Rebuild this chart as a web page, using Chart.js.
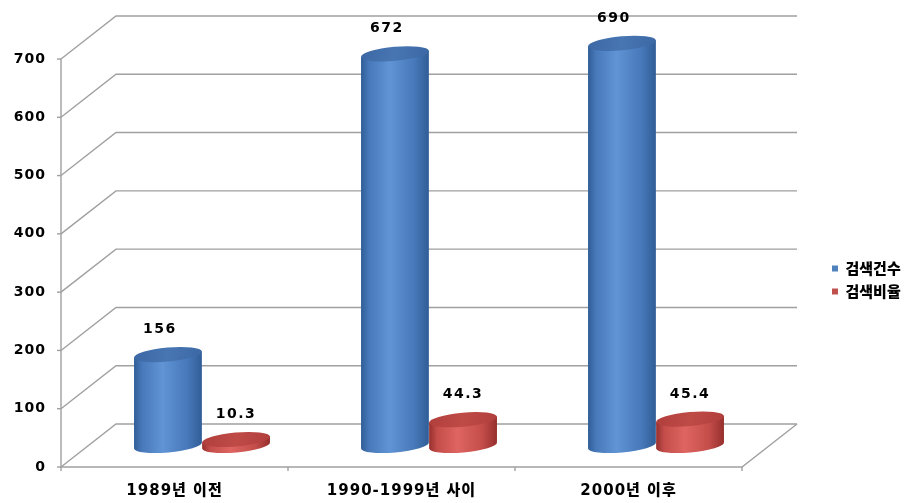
<!DOCTYPE html>
<html><head><meta charset="utf-8">
<script src="https://cdn.jsdelivr.net/npm/chart.js@4"></script>
<style>html,body{margin:0;padding:0;background:#fff;overflow:hidden}canvas{display:block}</style>
</head><body>
<canvas id="c" width="917" height="503"></canvas>
<script>
// ---- data ----
const categories = ['1989년 이전', '1990-1999년 사이', '2000년 이후'];
const searchCounts = [156, 672, 690];
const searchRatios = [10.3, 44.3, 45.4];
const seriesNames = ['검색건수', '검색비율'];
const yMin = 0, yMax = 700, yStep = 100;

// ---- style ----
const DEPTH_X = 55, DEPTH_Y = -43;
const GRID = '#a0a0a0';
const FAMILY = '"DejaVu Sans", "Noto Sans CJK KR", sans-serif';
const palettes = [
  {edge:'#305d96', mid:'#4879ba', light:'#6094d4', top:'#3b68a4', topLight:'#4876b2'},
  {edge:'#952f2d', mid:'#c44d4a', light:'#de6561', top:'#b03e3b', topLight:'#bf4b47'}
];
const labelShift = [-8, 0];

function cylinder(ctx, cx, yBase, yTop, rx, ry, rot, pal) {
  const ex = rx * Math.cos(rot), ey = rx * Math.sin(rot);
  const g = ctx.createLinearGradient(cx - rx, 0, cx + rx, 0);
  g.addColorStop(0, pal.edge); g.addColorStop(0.12, pal.mid);
  g.addColorStop(0.42, pal.light); g.addColorStop(0.78, pal.mid);
  g.addColorStop(1, pal.edge);
  ctx.beginPath();
  ctx.moveTo(cx - ex, yTop - ey);
  ctx.lineTo(cx - ex, yBase - ey);
  ctx.ellipse(cx, yBase, rx, ry, rot, Math.PI, 0, true);
  ctx.lineTo(cx + ex, yTop + ey);
  ctx.closePath();
  ctx.fillStyle = g; ctx.fill();
  const tg = ctx.createLinearGradient(cx - rx, yTop - ry, cx + rx, yTop + ry);
  tg.addColorStop(0, pal.top); tg.addColorStop(0.5, pal.topLight); tg.addColorStop(1, pal.top);
  ctx.beginPath();
  ctx.ellipse(cx, yTop, rx, ry, rot, 0, Math.PI * 2);
  ctx.fillStyle = tg; ctx.fill();
}

const threeD = {
  id: 'threeD',
  beforeLayout(chart) {
    const lg = chart.legend;
    if (lg && !lg.__p) {
      lg.__p = true;
      const fit = lg.fit.bind(lg);
      lg.fit = function () { fit(); this.width = 175; };
      const draw = lg.draw.bind(lg);
      lg.draw = function (a) {
        const ctx = this.ctx; const ls = ctx.letterSpacing;
        ctx.letterSpacing = '0px'; draw(a); ctx.letterSpacing = ls;
      };
    }
  },
  afterLayout(chart) {
    const lg = chart.legend;
    if (lg) { lg.left = 824; lg.right = 917; lg.top -= 1; lg.bottom -= 1; }
  },
  beforeDraw(chart) { chart.ctx.letterSpacing = '1px'; },
  beforeDatasetsDraw(chart) {
    const ctx = chart.ctx, ys = chart.scales.y, xs = chart.scales.x;
    const a = chart.chartArea;
    ctx.save();
    ctx.strokeStyle = GRID; ctx.lineWidth = 1.4;
    for (let v = yMin; v <= yMax; v += yStep) {
      const y = ys.getPixelForValue(v);
      ctx.beginPath();
      ctx.moveTo(a.left, y);
      ctx.lineTo(a.left + DEPTH_X, y + DEPTH_Y);
      ctx.lineTo(a.right + DEPTH_X, y + DEPTH_Y);
      ctx.stroke();
      ctx.beginPath(); ctx.moveTo(a.left - 4, y); ctx.lineTo(a.left, y); ctx.stroke();
    }
    const y0 = ys.getPixelForValue(yMin);
    ctx.beginPath();
    ctx.moveTo(a.left, ys.getPixelForValue(yMax)); ctx.lineTo(a.left, y0);
    ctx.lineTo(a.right, y0); ctx.lineTo(a.right + DEPTH_X, y0 + DEPTH_Y);
    ctx.stroke();
    const step = xs.getPixelForValue(1) - xs.getPixelForValue(0);
    for (let i = 0; i <= categories.length; i++) {
      const x = i < categories.length ? xs.getPixelForValue(i) - step / 2 : a.right;
      ctx.beginPath(); ctx.moveTo(x, y0); ctx.lineTo(x, y0 + 4); ctx.stroke();
    }
    const base = y0 + DEPTH_Y / 2;
    const labels = [];
    for (let i = 0; i < categories.length; i++) {
      chart.data.datasets.forEach((ds, d) => {
        const el = chart.getDatasetMeta(d).data[i];
        const cx = el.x + DEPTH_X / 2;
        const yTop = ys.getPixelForValue(ds.data[i]) + DEPTH_Y / 2;
        cylinder(ctx, cx, base, yTop, el.width / 2, 7, -0.09, palettes[d]);
        labels.push([String(ds.data[i]), cx + labelShift[d], yTop - 25]);
      });
    }
    ctx.font = 'bold 14px ' + FAMILY;
    ctx.letterSpacing = '1.5px';
    ctx.fillStyle = '#000';
    ctx.textAlign = 'center'; ctx.textBaseline = 'middle';
    labels.forEach(l => ctx.fillText(l[0], l[1], l[2]));
    ctx.restore();
    return false;
  }
};

new Chart(document.getElementById('c'), {
  type: 'bar',
  data: {
    labels: categories,
    datasets: [
      { label: seriesNames[0], data: searchCounts, backgroundColor: '#4f81bd', borderWidth: 0, barPercentage: 1, categoryPercentage: 0.6 },
      { label: seriesNames[1], data: searchRatios, backgroundColor: '#c0504d', borderWidth: 0, barPercentage: 1, categoryPercentage: 0.6 }
    ]
  },
  options: {
    responsive: false, animation: false, devicePixelRatio: 1,
    layout: { padding: { top: 59, left: 0, right: 0, bottom: 0 } },
    scales: {
      x: {
        grid: { display: false, drawTicks: false }, border: { display: false },
        ticks: { padding: 15, maxRotation: 0, color: '#000', font: { family: FAMILY, size: 15, weight: '900' } },
        afterFit: s => { s.height = 36; }
      },
      y: {
        min: yMin, max: yMax,
        grid: { display: false, drawTicks: false }, border: { display: false },
        ticks: { stepSize: yStep, padding: 15, color: '#000', font: { family: FAMILY, size: 14, weight: 'bold' } },
        afterFit: s => { s.width = 61; }
      }
    },
    plugins: {
      legend: {
        position: 'right',
        labels: { boxWidth: 6, boxHeight: 6, padding: 8, color: '#000', font: { family: '"Noto Sans CJK KR", sans-serif', size: 15, weight: '900' } }
      },
      tooltip: { enabled: false }
    }
  },
  plugins: [threeD]
});
</script>
</body></html>
